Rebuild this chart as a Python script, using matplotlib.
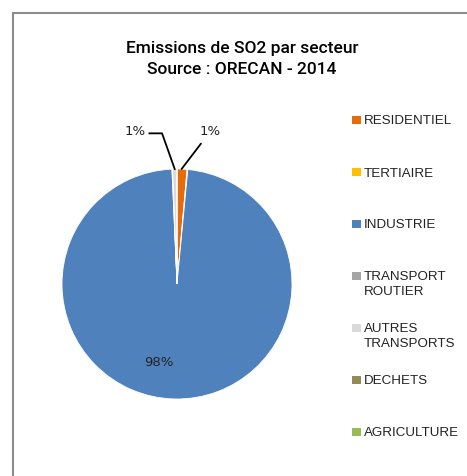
import matplotlib
matplotlib.use("Agg")
import matplotlib.pyplot as plt
from matplotlib.patches import Rectangle

categories = ["RESIDENTIEL", "TERTIAIRE", "INDUSTRIE", "TRANSPORT\nROUTIER",
              "AUTRES\nTRANSPORTS", "DECHETS", "AGRICULTURE"]
values = [1.4, 0.1, 97.8, 0.1, 0.6, 0.0, 0.0]
colors = ["#E46C0A", "#FFC000", "#4F81BD", "#A5A5A5", "#D9D9D9", "#948A54", "#9BBB59"]
title = "Emissions de SO2 par secteur\nSource : ORECAN - 2014"

W, H = 467, 476
fig = plt.figure(figsize=(W / 100, H / 100), dpi=100)
fig.patch.set_facecolor("white")

# outer frame
fig.patches.append(Rectangle((13 / W, -0.1), 1.2, 1 - 13 / H + 0.1, transform=fig.transFigure,
                             fill=False, edgecolor="#8C8C8C", linewidth=1.5))

cx, cy, r = 177, 284, 115
ax = fig.add_axes([(cx - r) / W, (H - cy - r) / H, 2 * r / W, 2 * r / H])
wedges, _ = ax.pie(values, colors=colors, startangle=90, counterclock=False,
                   wedgeprops=dict(edgecolor="white", linewidth=0.6))
ax.set_xlim(-1, 1)
ax.set_ylim(-1, 1)
ax.set_aspect("equal")

# labels
ax.text(-0.16, -0.68, "98%", ha="center", va="center", fontsize=9.5, color="#222222")
ax.annotate("1%", xy=(0.04, 1.0), xytext=(0.2, 1.33), fontsize=9.5, color="#222222",
            ha="left", va="center", annotation_clip=False,
            arrowprops=dict(arrowstyle="-", color="black", lw=1.3,
                            shrinkA=3, shrinkB=0))
ax.plot([-0.24, -0.13, -0.02], [1.31, 1.31, 1.0], color="black", lw=1.3, clip_on=False)
ax.text(-0.27, 1.33, "1%", ha="right", va="center", fontsize=9.5, color="#222222")

fig.text(242 / W, 1 - 59 / H, title, ha="center", va="center", fontsize=12.5,
         fontfamily="Roboto", fontweight="medium", linespacing=1.45,
         color="black")

# legend (manual, uniform row spacing like the original)
lx, ly0, dy, sq = 352, 120, 52, 8.5
for i, (lab, col) in enumerate(zip(categories, colors)):
    y = ly0 + dy * i
    fig.patches.append(Rectangle((lx / W, 1 - (y + sq / 2) / H), sq / W, sq / H,
                                 transform=fig.transFigure, facecolor=col, edgecolor="none"))
    fig.text((lx + sq + 3.5) / W, 1 - (y - 4.5) / H, lab, ha="left", va="top",
             fontsize=9.6, fontfamily="Liberation Sans", color="#222222", linespacing=1.3)

fig.savefig("out.png", dpi=100)
